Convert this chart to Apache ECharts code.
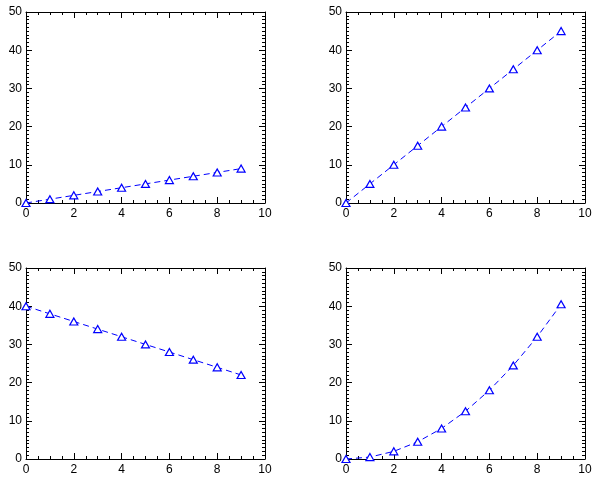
<!DOCTYPE html>
<html><head><meta charset="utf-8">
<script src="https://cdn.jsdelivr.net/npm/echarts@6/dist/echarts.min.js"></script>
<style>html,body{margin:0;padding:0;background:#fff}#c{width:600px;height:479px}</style>
</head><body><div id="c"></div>
<script>
const xValues = [0, 1, 2, 3, 4, 5, 6, 7, 8, 9];
const seriesTopLeft = [0, 1, 2, 3, 4, 5, 6, 7, 8, 9];
const seriesTopRight = [0, 5, 10, 15, 20, 25, 30, 35, 40, 45];
const seriesBottomLeft = [40, 38, 36, 34, 32, 30, 28, 26, 24, 22];
const seriesBottomRight = [0, 0.5, 2, 4.5, 8, 12.5, 18, 24.5, 32, 40.5];
const panels = [seriesTopLeft, seriesTopRight, seriesBottomLeft, seriesBottomRight];
const gridPos = [
  {left: 26, top: 12}, {left: 346, top: 12},
  {left: 26, top: 268}, {left: 346, top: 268}
];
const font = 'Liberation Sans, Arial, Helvetica, sans-serif';
const grid = [], xAxis = [], yAxis = [], series = [];
function axis(opts, splitNumber, showLabel, margin) {
  return Object.assign({
    type: 'value', min: 0,
    axisLine: {show: true, onZero: false, lineStyle: {color: '#000', width: 1}},
    axisTick: {show: true, inside: true, length: 6, lineStyle: {color: '#000'}},
    minorTick: {show: true, splitNumber: splitNumber, length: 3, lineStyle: {color: '#000'}},
    splitLine: {show: false},
    axisLabel: showLabel ? {show: true, color: '#000', fontSize: 12, fontFamily: font, margin: margin} : {show: false}
  }, opts);
}
gridPos.forEach((g, i) => {
  grid.push({left: g.left, top: g.top, width: 239, height: 191, containLabel: false});
  xAxis.push(axis({gridIndex: i, position: 'bottom', max: 10, interval: 2}, 4, true, 5));
  xAxis.push(axis({gridIndex: i, position: 'top', max: 10, interval: 2}, 4, false, 0));
  yAxis.push(axis({gridIndex: i, position: 'left', max: 50, interval: 10}, 10, true, 4));
  yAxis.push(axis({gridIndex: i, position: 'right', max: 50, interval: 10}, 10, false, 0));
  series.push({
    type: 'line', xAxisIndex: i * 2, yAxisIndex: i * 2,
    data: xValues.map((x, k) => [x, panels[i][k]]),
    symbol: 'triangle', symbolSize: [8, 7], showAllSymbol: true,
    lineStyle: {color: '#0000ff', width: 1, type: [6, 4]},
    itemStyle: {color: '#ffffff', borderColor: '#0000ff', borderWidth: 1.2},
    clip: false, animation: false, silent: true
  });
});
const chart = echarts.init(document.getElementById('c'), null, {renderer: 'canvas'});
chart.setOption({animation: false, backgroundColor: '#fff', grid, xAxis, yAxis, series});
</script></body></html>
